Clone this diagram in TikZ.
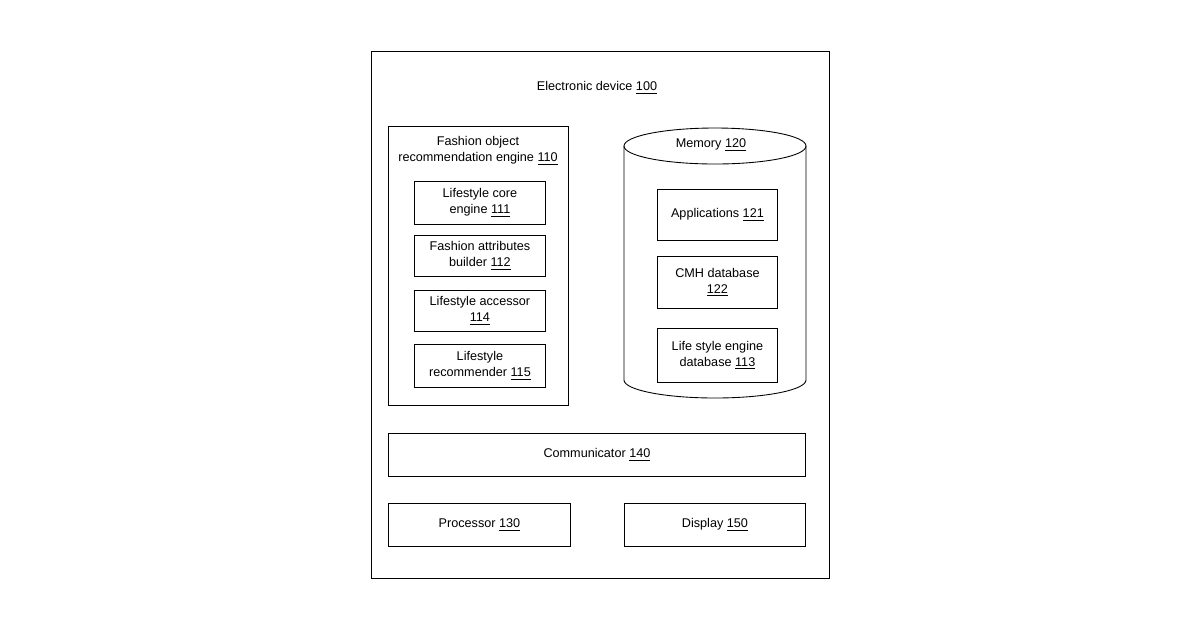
\documentclass[tikz,border=0pt]{standalone}
\usepackage{fontspec}
\setmainfont{Liberation Sans}
\usetikzlibrary{positioning,shapes.geometric}
\newcommand{\refnum}[1]{\underline{#1}}
\begin{document}
\begin{tikzpicture}[x=0.02cm,y=-0.02cm,
    every node/.style={font=\fontsize{7.2}{9}\selectfont,align=center,inner sep=0pt},
    blk/.style={draw,line width=0.5pt,anchor=north west}]
    \useasboundingbox (0,0) rectangle (1200,630);

    \node [blk,minimum width=458*0.02cm,minimum height=527*0.02cm] (device) at (371,51) {};
    \node (devlabel) at (597,88) {Electronic device \refnum{100}};

    % recommendation engine
    \node [blk,minimum width=180*0.02cm,minimum height=279*0.02cm] (engine) at (388,126) {};
    \node (englabel) at (478,151) {Fashion object\\recommendation engine \refnum{110}};
    \node [blk,minimum width=131*0.02cm,minimum height=43*0.02cm] (core) at (414,181) {Lifestyle core\\engine \refnum{111}};
    \node [blk,minimum width=131*0.02cm,minimum height=41*0.02cm] (builder) at (414,235) {Fashion attributes\\builder \refnum{112}};
    \node [blk,minimum width=131*0.02cm,minimum height=41*0.02cm] (accessor) at (414,290) {Lifestyle accessor\\\refnum{114}};
    \node [blk,minimum width=131*0.02cm,minimum height=43*0.02cm] (recommender) at (414,344) {Lifestyle\\recommender \refnum{115}};

    % memory
    \draw [line width=0.5pt] (624,146) -- (624,380) arc[start angle=180,end angle=360,x radius=91,y radius=-18] -- (806,146);
    \draw [line width=0.5pt] (715,146) ellipse [x radius=91,y radius=18];
    \node (memlabel) at (711,145) {Memory \refnum{120}};
    \node [blk,minimum width=120*0.02cm,minimum height=51*0.02cm] (apps) at (657,189) {Applications \refnum{121}};
    \node [blk,minimum width=120*0.02cm,minimum height=52*0.02cm] (cmh) at (657,256) {CMH database\\\refnum{122}};
    \node [blk,minimum width=120*0.02cm,minimum height=54*0.02cm] (lsdb) at (657,328) {Life style engine\\database \refnum{113}};

    \node [blk,minimum width=417*0.02cm,minimum height=43*0.02cm] (comm) at (388,433) {Communicator \refnum{140}};
    \node [blk,minimum width=182*0.02cm,minimum height=43*0.02cm] (proc) at (388,503) {Processor \refnum{130}};
    \node [blk,minimum width=181*0.02cm,minimum height=43*0.02cm] (disp) at (624,503) {Display \refnum{150}};
\end{tikzpicture}
\end{document}
